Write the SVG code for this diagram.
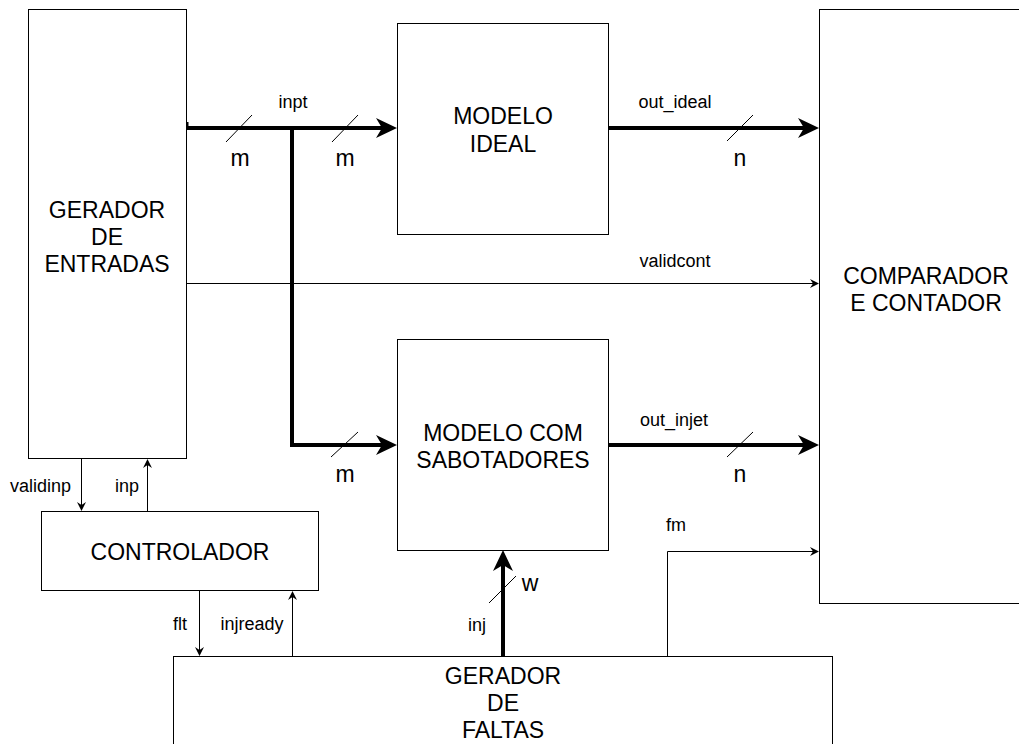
<svg xmlns="http://www.w3.org/2000/svg" width="1019" height="744" viewBox="0 0 1019 744">
<style>
.box{fill:#fff;stroke:#000;stroke-width:1}
.big{font-family:"Liberation Sans",Arial,sans-serif;font-size:23px;fill:#000;text-anchor:middle}
.sm{font-family:"Liberation Sans",Arial,sans-serif;font-size:18px;fill:#000;text-anchor:middle}
.thick{fill:none;stroke:#000;stroke-width:4}
.thin{fill:none;stroke:#000;stroke-width:1}
.slash{stroke:#000;stroke-width:1}
</style>
<defs>
<marker id="ah" markerUnits="userSpaceOnUse" viewBox="-7 -11 24 22" markerWidth="24" markerHeight="22" refX="0" refY="0" orient="auto" overflow="visible">
<path d="M15,0 L-6,-10 L0,0 L-6,10 Z" fill="#000"/>
</marker>
<marker id="as" markerUnits="userSpaceOnUse" viewBox="-4 -5 11 10" markerWidth="11" markerHeight="10" refX="0" refY="0" orient="auto" overflow="visible">
<path d="M6,0 L-3,-4.5 L0,0 L-3,4.5 Z" fill="#000"/>
</marker>
</defs>
<rect width="1019" height="744" fill="#fff"/>

<g id="gerador-entradas">
<rect class="box" x="28.5" y="9.5" width="158" height="449"/>
<text class="big" x="107" y="218">GERADOR</text>
<text class="big" x="107" y="245">DE</text>
<text class="big" x="107" y="272">ENTRADAS</text>
</g>

<g id="modelo-ideal">
<rect class="box" x="397.5" y="23.5" width="211" height="211"/>
<text class="big" x="503" y="124">MODELO</text>
<text class="big" x="503" y="152">IDEAL</text>
</g>

<g id="modelo-sabotadores">
<rect class="box" x="397.5" y="339.5" width="211" height="211"/>
<text class="big" x="503" y="441">MODELO COM</text>
<text class="big" x="503" y="468">SABOTADORES</text>
</g>

<g id="comparador">
<rect class="box" x="819.5" y="9.5" width="212" height="594"/>
<text class="big" x="926" y="284">COMPARADOR</text>
<text class="big" x="926" y="311">E CONTADOR</text>
</g>

<g id="controlador">
<rect class="box" x="41.5" y="511.5" width="277" height="79"/>
<text class="big" x="180" y="560">CONTROLADOR</text>
</g>

<g id="gerador-faltas">
<rect class="box" x="173.5" y="656.5" width="659" height="100"/>
<text class="big" x="503" y="684">GERADOR</text>
<text class="big" x="503" y="711">DE</text>
<text class="big" x="503" y="738">FALTAS</text>
</g>

<g id="connectors">
<line x1="187.5" y1="122" x2="187.5" y2="128" stroke="#000" stroke-width="2"/>
<path class="thick" d="M187,128 L382,128" marker-end="url(#ah)"/>
<path class="thick" d="M292,128 L292,445 L382,445" marker-end="url(#ah)"/>
<path class="thick" d="M608,128 L804,128" marker-end="url(#ah)"/>
<path class="thick" d="M608,445 L804,445" marker-end="url(#ah)"/>
<path class="thick" d="M503,656 L503,565" marker-end="url(#ah)"/>
<path class="thin" d="M187,283.5 L813,283.5" marker-end="url(#as)"/>
<path class="thin" d="M667.5,656 L667.5,551.5 L813,551.5" marker-end="url(#as)"/>
<path class="thin" d="M81.5,459 L81.5,505" marker-end="url(#as)"/>
<path class="thin" d="M147.5,511 L147.5,465" marker-end="url(#as)"/>
<path class="thin" d="M199.5,591 L199.5,650" marker-end="url(#as)"/>
<path class="thin" d="M292.5,656 L292.5,597" marker-end="url(#as)"/>

<line class="slash" x1="226" y1="142" x2="252" y2="115"/>
<line class="slash" x1="332" y1="142" x2="358" y2="115"/>
<line class="slash" x1="331" y1="457" x2="358" y2="432"/>
<line class="slash" x1="727" y1="141" x2="753" y2="115"/>
<line class="slash" x1="727" y1="457" x2="753" y2="432"/>
<line class="slash" x1="489" y1="603" x2="516" y2="576"/>

<text class="sm" x="293" y="108">inpt</text>
<text class="big" x="240" y="166">m</text>
<text class="big" x="345" y="166">m</text>
<text class="big" x="345" y="482">m</text>
<text class="sm" x="675" y="108">out_ideal</text>
<text class="big" x="740" y="166">n</text>
<text class="sm" x="675" y="267">validcont</text>
<text class="sm" x="674" y="426">out_injet</text>
<text class="big" x="740" y="482">n</text>
<text class="sm" x="676" y="531">fm</text>
<text class="big" x="530" y="591">w</text>
<text class="sm" x="477" y="631">inj</text>
<text class="sm" x="40.5" y="492">validinp</text>
<text class="sm" x="127" y="492">inp</text>
<text class="sm" x="180" y="630">flt</text>
<text class="sm" x="252" y="630">injready</text>
</g>
</svg>
